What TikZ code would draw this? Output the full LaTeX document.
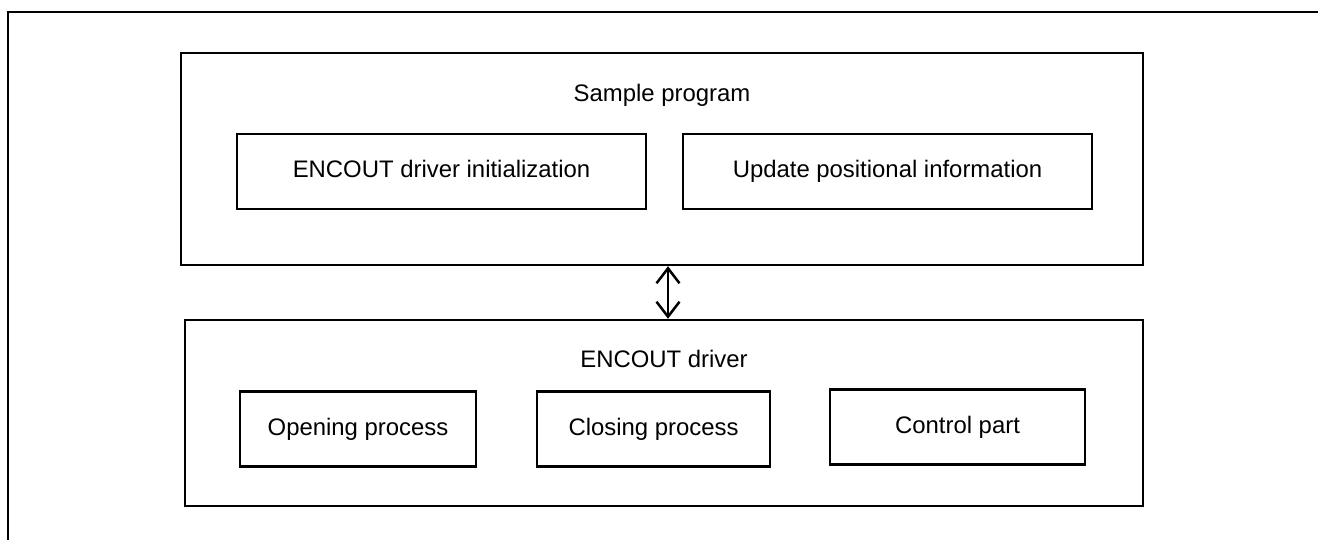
\documentclass[tikz,border=0pt]{standalone}
\usepackage{fontspec}
\setmainfont{Liberation Sans}
\usetikzlibrary{arrows.meta,positioning}
\tikzset
{
    outerbox/.style = {rectangle, draw=black, line width=0.05cm, inner sep=0pt},
    partbox/.style = {rectangle, draw=black, line width=0.05cm, align=center, minimum height=1.5cm,
                      text height=0.72em, text depth=0pt},
    title/.style = {inner sep=0pt, align=center, text height=0.72em, text depth=0pt}
}

\begin{document}
\begin{tikzpicture}[x=0.02cm, y=-0.02cm, font=\fontsize{13.6}{16}\selectfont,
  >={Straight Barb[length=0.3cm, width=0.46cm]}]
\useasboundingbox (0,0) rectangle (1318,540);
% page frame
\draw[line width=0.05cm] (8,540) -- (8,12) -- (1318,12);

% sample program
\node [outerbox, minimum width=19.24cm, minimum height=4.24cm] (sample) at (662,159) {};
\node [title] (sampletitle) at (662,95) {Sample program};
\node [partbox, minimum width=8.18cm] (init) at (441.5,171.5) {ENCOUT driver initialization};
\node [partbox, minimum width=8.18cm] (update) at (887.5,171.5) {Update positional information};

% driver
\node [outerbox, minimum width=19.16cm, minimum height=3.72cm] (driver) at (664,413) {};
\node [title] (drivertitle) at (664,361) {ENCOUT driver};
\node [partbox, minimum width=4.72cm] (opening) at (358,429) {Opening process};
\node [partbox, minimum width=4.66cm] (closing) at (653.5,429) {Closing process};
\node [partbox, minimum width=5.10cm] (control) at (957.5,427) {Control part};

\coordinate (link) at (668,0);
\draw [<->, line width=0.05cm] (sample.south -| link) -- (driver.north -| link);
\end{tikzpicture}
\end{document}
